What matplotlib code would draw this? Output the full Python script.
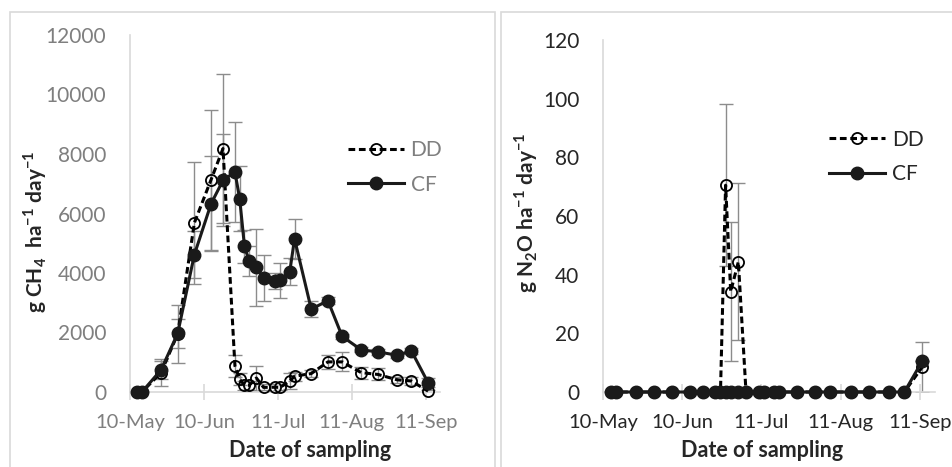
import datetime as dt

import matplotlib
matplotlib.use("Agg")
import matplotlib.dates as mdates
import matplotlib.pyplot as plt
from matplotlib.patches import Rectangle

plt.rcParams["font.family"] = ["Lato", "DejaVu Sans"]
plt.rcParams["mathtext.fontset"] = "custom"
plt.rcParams["mathtext.rm"] = "Lato"
plt.rcParams["mathtext.bf"] = "Lato:bold"

# sampling dates (same for both gases)
sample_dates = [
    "2016-05-13", "2016-05-15", "2016-05-23", "2016-05-30", "2016-06-06",
    "2016-06-13", "2016-06-18", "2016-06-23", "2016-06-25", "2016-06-27",
    "2016-06-29", "2016-07-02", "2016-07-05", "2016-07-10", "2016-07-12",
    "2016-07-16", "2016-07-18", "2016-07-25", "2016-08-01", "2016-08-07",
    "2016-08-15", "2016-08-22", "2016-08-30", "2016-09-05", "2016-09-12",
]
tick_dates = ["2016-05-10", "2016-06-10", "2016-07-11", "2016-08-11", "2016-09-11"]
tick_labels = ["10-May", "10-Jun", "11-Jul", "11-Aug", "11-Sep"]

# CH4 (g ha-1 day-1)
ch4_dd = [0, 0, 650, 1950, 5687, 7137, 8183, 880, 427, 225, 225, 470, 155,
          160, 155, 370, 530, 620, 1012, 1012, 650, 590, 410, 370, 30]
ch4_dd_err = [0, 0, 450, 980, 2050, 2350, 2500, 360, 200, 150, 150, 420, 100,
              120, 100, 260, 150, 120, 230, 320, 200, 200, 100, 120, 50]
ch4_cf = [0, 0, 742, 1967, 4620, 6328, 7115, 7396, 6497, 4900, 4400, 4190, 3830,
          3740, 3750, 4046, 5148, 2788, 3069, 1866, 1416, 1349, 1236, 1382, 315]
ch4_cf_err = [0, 0, 300, 480, 790, 1600, 1550, 1690, 1100, 550, 500, 1300, 760,
              270, 590, 460, 670, 280, 120, 100, 80, 100, 80, 100, 150]

# N2O (g ha-1 day-1)
n2o_dd = [0, 0, 0, 0, 0, 0, 0, 0, 0, 70.5, 34.2, 44.4, 0,
          0, 0, 0, 0, 0, 0, 0, 0, 0, 0, 0, 8.5]
n2o_dd_err = [0, 0, 0, 0, 0, 0, 0, 0, 0, 27.7, 23.7, 26.7, 0,
              0, 0, 0, 0, 0, 0, 0, 0, 0, 0, 0, 8.6]
n2o_cf = [0, 0, 0, 0, 0, 0, 0, 0, 0, 0, 0, 0, 0,
          0, 0, 0, 0, 0, 0, 0, 0, 0, 0, 0, 10.5]
n2o_cf_err = [0] * 25

dates = [dt.datetime.strptime(d, "%Y-%m-%d") for d in sample_dates]
ticks = [dt.datetime.strptime(d, "%Y-%m-%d") for d in tick_dates]
x_min = dt.datetime(2016, 5, 10)
x_max = dt.datetime(2016, 9, 17)

W, H = 952, 467
fig = plt.figure(figsize=(W / 100, H / 100), dpi=100)

# panel frames like the Excel chart areas
for x0, x1 in [(10, 495), (501, 960)]:
    fig.patches.append(Rectangle((x0 / W, -0.05), (x1 - x0) / W, 1.05 - 12 / H,
                                 transform=fig.transFigure, fill=False,
                                 edgecolor="#d9d9d9", lw=1.2))

ax1 = fig.add_axes([130 / W, 1 - 392 / H, 310 / W, 357 / H])
ax2 = fig.add_axes([603 / W, 1 - 392 / H, 332 / W, 352 / H])


def draw(ax, dd, dd_err, cf, cf_err, tick_color, ymax, ystep, ylabel, leg_pos):
    ax.errorbar(dates, dd, yerr=dd_err, fmt="none", ecolor="#8c8c8c",
                elinewidth=1, capsize=5, capthick=1, zorder=1)
    ax.errorbar(dates, cf, yerr=cf_err, fmt="none", ecolor="#8c8c8c",
                elinewidth=1, capsize=5, capthick=1, zorder=1)
    ax.plot(dates, dd, color="black", ls=(0, (2.2, 1.2)), lw=2.2, marker="o",
            ms=8, mfc="none", mec="black", mew=1.3, label="DD", zorder=3,
            clip_on=False)
    ax.plot(dates, cf, color="#1a1a1a", ls="-", lw=2.2, marker="o",
            ms=9, mfc="#1a1a1a", mec="#1a1a1a", label="CF", zorder=4,
            clip_on=False)

    ax.set_xlim(x_min, x_max)
    ax.set_ylim(0, ymax)
    ax.set_yticks(range(0, ymax + 1, ystep))
    ax.set_xticks(ticks)
    ax.xaxis.set_major_formatter(mdates.DateFormatter("%d-%b"))
    ax.set_xticklabels(tick_labels)

    for s in ["top", "right"]:
        ax.spines[s].set_visible(False)
    ax.spines["left"].set_color("#d9d9d9")
    ax.spines["bottom"].set_color("#d9d9d9")
    ax.spines["left"].set_linewidth(1.2)
    ax.spines["bottom"].set_linewidth(1.2)
    ax.tick_params(axis="y", length=0, pad=17, labelsize=15, labelcolor=tick_color)
    ax.tick_params(axis="x", direction="inout", length=12, width=1.2,
                   color="#d9d9d9", pad=10, labelsize=14.5, labelcolor=tick_color)

    ax.set_xlabel("Date of sampling", fontsize=15.5, fontweight="bold", color="#262626")
    ax.set_ylabel(ylabel, fontsize=15, fontweight="bold", color="#262626")

    leg = ax.legend(loc="upper left", bbox_to_anchor=leg_pos, frameon=False,
                    handlelength=2.7, handletextpad=0.3, labelspacing=0.7,
                    borderpad=0, fontsize=15)
    for t in leg.get_texts():
        t.set_color(tick_color)


draw(ax1, ch4_dd, ch4_dd_err, ch4_cf, ch4_cf_err, "#7f7f7f", 12000, 2000,
     r"g CH$_\mathbf{4}$  ha$^\mathbf{-1}$ day$^\mathbf{-1}$", (0.67, 0.735))
draw(ax2, n2o_dd, n2o_dd_err, n2o_cf, n2o_cf_err, "#262626", 120, 20,
     r"g N$_\mathbf{2}$O ha$^\mathbf{-1}$ day$^\mathbf{-1}$", (0.65, 0.775))

ax1.xaxis.set_label_coords(0.58, -0.135)
ax1.yaxis.set_label_coords(-0.26, 0.45)
ax2.xaxis.set_label_coords(0.48, -0.137)
ax2.yaxis.set_label_coords(-0.19, 0.51)

fig.savefig("out.png", dpi=100)
